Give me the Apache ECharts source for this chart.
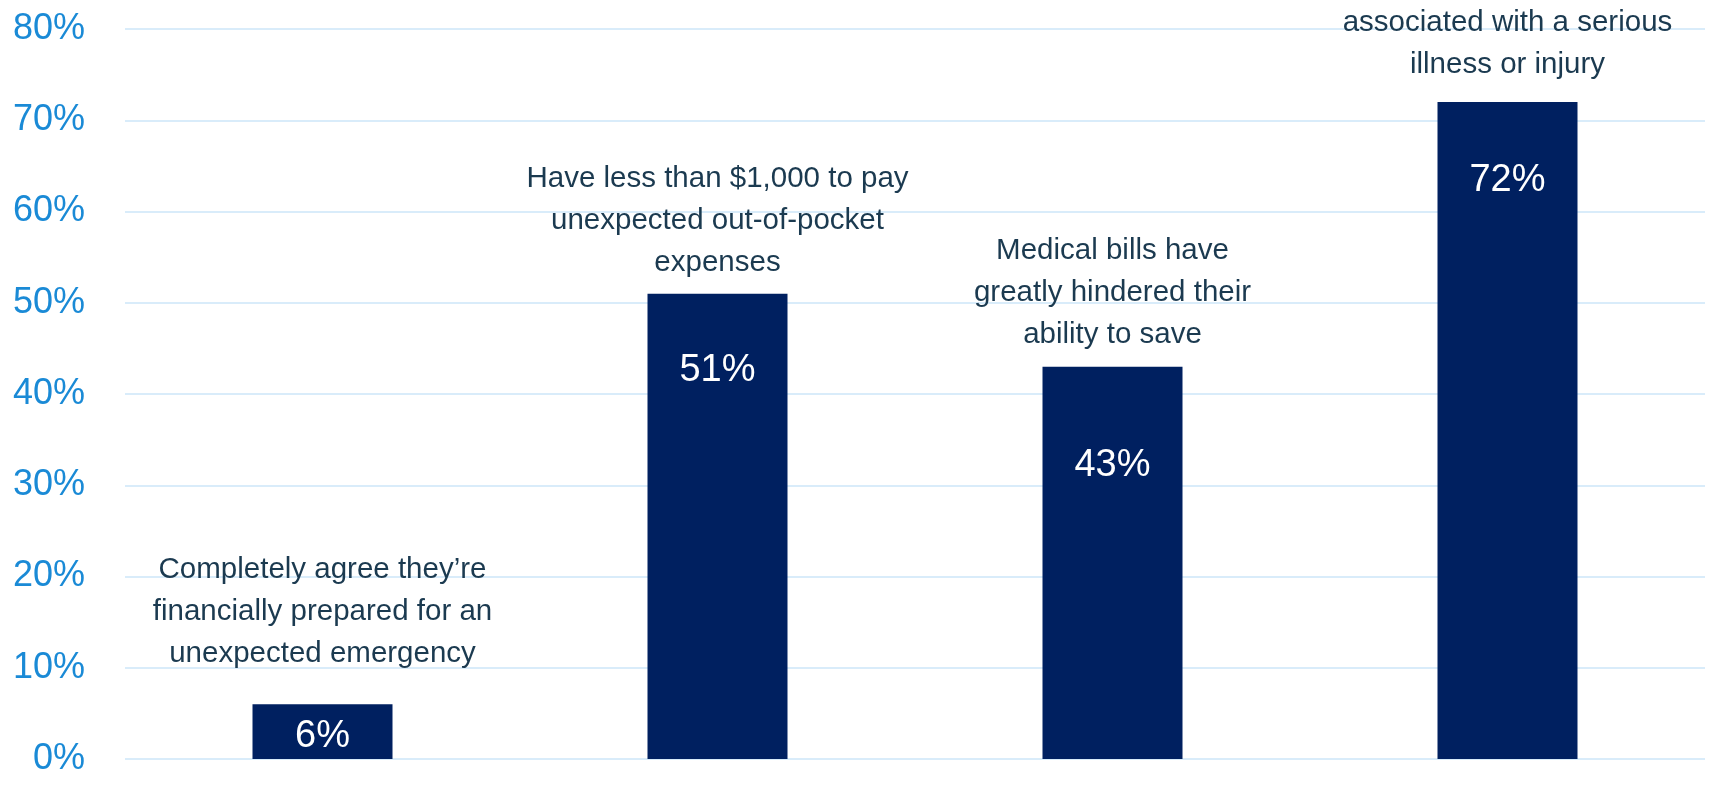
<!DOCTYPE html>
<html>
<head>
<meta charset="utf-8">
<script src="https://cdn.jsdelivr.net/npm/echarts@6/dist/echarts.min.js"></script>
<style>
  html, body { margin: 0; padding: 0; background: #ffffff; }
  #chart { width: 1709px; height: 786px; }
</style>
</head>
<body>
<div id="chart"></div>
<script>
// Survey results: share of respondents (%)
const categories = ['prepared', 'under1000', 'savings', 'illness'];
const shares = [6, 51, 43, 72];
const descriptions = [
  'Completely agree they\u2019re\nfinancially prepared for an\nunexpected emergency',
  'Have less than $1,000 to pay\nunexpected out-of-pocket\nexpenses',
  'Medical bills have\ngreatly hindered their\nability to save',
  'associated with a serious\nillness or injury'
];
const yTicks = [0, 10, 20, 30, 40, 50, 60, 70, 80];

// label placement per bar (pixels), kept apart from the data
const valueLabelOffset = [32, 77, 99, 79];   // from bar top to value text centre
const descGap = [29, 10, 11, 16];             // between description block and bar top

const chart = echarts.init(document.getElementById('chart'), null, { renderer: 'canvas' });

const textFont = '"Liberation Sans", Arial, sans-serif';

chart.setOption({
  animation: false,
  backgroundColor: '#ffffff',
  grid: { left: 125, right: 4, top: 29, bottom: 27, containLabel: false },
  xAxis: {
    type: 'category',
    data: categories,
    axisLine: { show: false },
    axisTick: { show: false },
    axisLabel: { show: false }
  },
  yAxis: {
    type: 'value',
    min: yTicks[0],
    max: yTicks[yTicks.length - 1],
    interval: yTicks[1] - yTicks[0],
    axisLine: { show: false },
    axisTick: { show: false },
    axisLabel: {
      formatter: '{value}%',
      color: '#1a8ad6',
      fontSize: 36,
      fontFamily: textFont,
      margin: 40,
      padding: [7, 0, 0, 0]
    },
    splitLine: { lineStyle: { color: '#cde6f8', width: 1.5 } }
  },
  series: [
    {
      name: 'share',
      type: 'bar',
      barWidth: 140,
      data: shares.map((v, i) => ({
        value: v,
        label: { position: ['50%', valueLabelOffset[i]] }
      })),
      itemStyle: { color: '#002060' },
      label: {
        show: true,
        formatter: '{c}%',
        align: 'center',
        verticalAlign: 'middle',
        color: '#ffffff',
        fontSize: 38,
        fontFamily: textFont
      },
      z: 2
    },
    {
      name: 'description',
      type: 'bar',
      barWidth: 140,
      barGap: '-100%',
      silent: true,
      data: shares.map((v, i) => ({
        value: v,
        label: { distance: descGap[i] }
      })),
      itemStyle: { color: 'rgba(0,0,0,0)' },
      label: {
        show: true,
        position: 'top',
        formatter: (p) => descriptions[p.dataIndex],
        align: 'center',
        color: '#1b3a50',
        fontSize: 29.5,
        lineHeight: 42,
        fontFamily: textFont
      },
      z: 3
    }
  ]
});
</script>
</body>
</html>
